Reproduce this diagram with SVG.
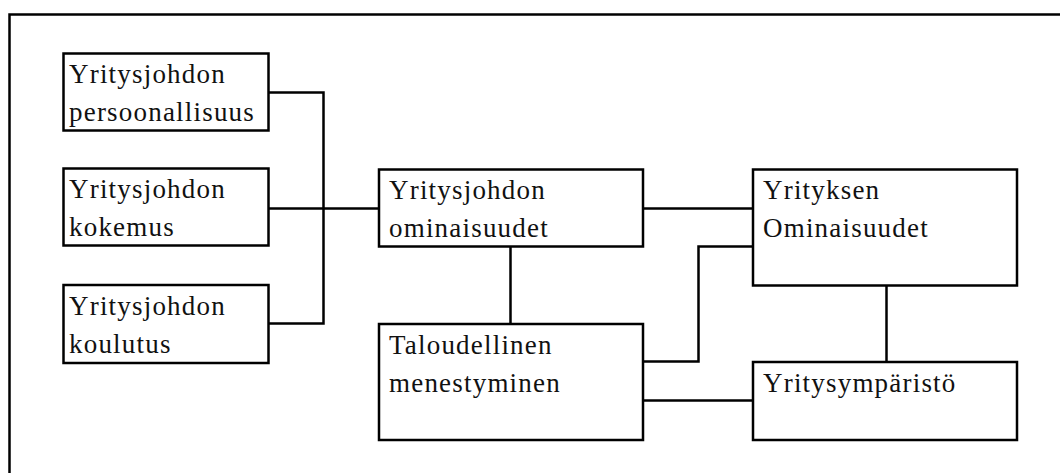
<svg xmlns="http://www.w3.org/2000/svg" width="1060" height="473" viewBox="0 0 1060 473">
<style>
.box{fill:#fff;stroke:#000;stroke-width:2.5}
.c{fill:none;stroke:#000;stroke-width:2.5}
text{font-family:"Liberation Serif","DejaVu Serif",serif;font-size:27px;letter-spacing:1.2px;fill:#111}
</style>
<rect x="0" y="0" width="1060" height="473" fill="#fff"/>
<path id="frame" class="c" d="M9.5,480 V14.5 H1070"/>
<g id="connectors">
<path class="c" d="M268,92.5 H323.5 V323.5 H268"/>
<path class="c" d="M268,208.5 H379"/>
<path class="c" d="M643,208.5 H753"/>
<path class="c" d="M510.5,246.5 V324"/>
<path class="c" d="M643,361.5 H698.5 V246.5 H753"/>
<path class="c" d="M643,400.5 H753"/>
<path class="c" d="M886.5,285.5 V362"/>
</g>
<g id="n1"><rect class="box" x="63.5" y="53.5" width="205" height="77"/><text x="69" y="83">Yritysjohdon</text><text x="69" y="121">persoonallisuus</text></g>
<g id="n2"><rect class="box" x="63.5" y="168.5" width="205" height="77"/><text x="69" y="198">Yritysjohdon</text><text x="69" y="236">kokemus</text></g>
<g id="n3"><rect class="box" x="63.5" y="285" width="205" height="78"/><text x="69" y="314.5">Yritysjohdon</text><text x="69" y="352.5">koulutus</text></g>
<g id="n4"><rect class="box" x="379" y="169.5" width="264" height="77"/><text x="389" y="199">Yritysjohdon</text><text x="389" y="237">ominaisuudet</text></g>
<g id="n5"><rect class="box" x="379" y="324" width="264" height="116"/><text x="389" y="354">Taloudellinen</text><text x="389" y="392">menestyminen</text></g>
<g id="n6"><rect class="box" x="753" y="169.5" width="264" height="116"/><text x="763" y="199">Yrityksen</text><text x="763" y="237">Ominaisuudet</text></g>
<g id="n7"><rect class="box" x="753" y="362" width="264" height="78"/><text x="763" y="392">Yritysympäristö</text></g>
</svg>
